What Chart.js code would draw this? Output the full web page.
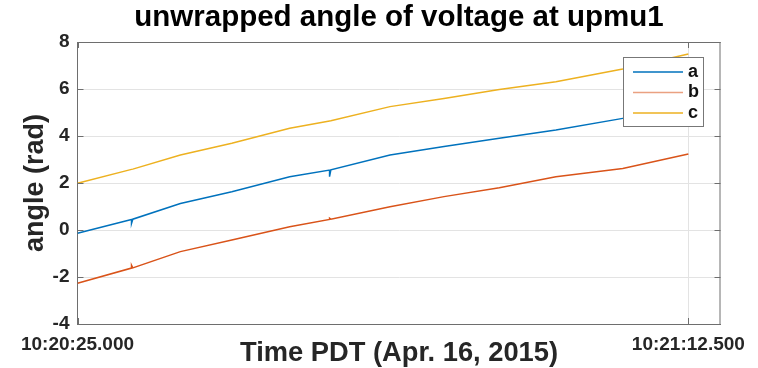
<!DOCTYPE html>
<html>
<head>
<meta charset="utf-8">
<script src="https://cdn.jsdelivr.net/npm/chart.js@4.4.1/dist/chart.umd.min.js"></script>
<style>
  html, body { margin: 0; padding: 0; background: #fff; }
</style>
</head>
<body>
<canvas id="angles" width="758" height="368"></canvas>
<script>
// seconds after 10:20:25.000 (Apr. 16, 2015)
const timeSec = [0, 4.2, 4.2, 4.3, 8, 12, 16.5, 19.6, 19.6, 19.7, 24.3, 28.5, 32.8, 37.2, 42.4, 47.5];
const seriesA = [-0.14, 0.45, 0.28, 0.46, 1.13, 1.63, 2.27, 2.55, 2.27, 2.56, 3.19, 3.55, 3.90, 4.26, 4.75, 5.15];
const seriesB = [-2.27, -1.62, -1.50, -1.61, -0.92, -0.43, 0.14, 0.45, 0.50, 0.46, 0.99, 1.42, 1.80, 2.27, 2.62, 3.23];
const seriesC = [1.99, 2.58, 2.58, 2.59, 3.19, 3.69, 4.33, 4.64, 4.64, 4.65, 5.25, 5.60, 5.98, 6.31, 6.85, 7.49];
const seriesNames = ["a", "b", "c"];
const xTickValues = [0, 47.5];
const xTickLabels = ["10:20:25.000", "10:21:12.500"];

const FONT = "'Liberation Sans', Arial, sans-serif";
const colors = ["#0072BD", "#D95319", "#EDB120"];

function toPoints(values) {
    return values.map((v, i) => ({ x: timeSec[i], y: v }));
}

// axes box: top/right edges and inward tick marks, like the original figure
const framePlugin = {
    id: "frame",
    afterDatasetsDraw(chart) {
        const { ctx, chartArea: a, scales } = chart;
        ctx.save();
        ctx.strokeStyle = "#6e6e6e";
        ctx.lineWidth = 1;
        ctx.beginPath();
        ctx.moveTo(a.left, a.top + 0.5);
        ctx.lineTo(a.right, a.top + 0.5);
        ctx.moveTo(a.right - 0.5, a.top);
        ctx.lineTo(a.right - 0.5, a.bottom);
        scales.y.ticks.forEach((t) => {
            const py = Math.round(scales.y.getPixelForValue(t.value)) + 0.5;
            ctx.moveTo(a.left, py);
            ctx.lineTo(a.left + 6, py);
            ctx.moveTo(a.right, py);
            ctx.lineTo(a.right - 6, py);
        });
        scales.x.ticks.forEach((t) => {
            const px = Math.round(scales.x.getPixelForValue(t.value)) + 0.5;
            ctx.moveTo(px, a.top);
            ctx.lineTo(px, a.top + 6);
            ctx.moveTo(px, a.bottom);
            ctx.lineTo(px, a.bottom - 6);
        });
        ctx.stroke();
        ctx.restore();
    },
};

// boxed legend in the upper right corner of the plot
const boxLegend = {
    id: "boxLegend",
    afterDraw(chart) {
        const { ctx } = chart;
        const x0 = 623, y0 = 57, w = 81, h = 70;
        ctx.save();
        ctx.fillStyle = "#fff";
        ctx.fillRect(x0, y0, w, h);
        ctx.strokeStyle = "#777";
        ctx.lineWidth = 1;
        ctx.strokeRect(x0 + 0.5, y0 + 0.5, w - 1, h - 1);
        ctx.font = "bold 18px " + FONT;
        ctx.textBaseline = "middle";
        chart.data.datasets.forEach((ds, i) => {
            const y = y0 + 15 + i * 20.5;
            ctx.strokeStyle = ds.borderColor;
            ctx.globalAlpha = i === 1 ? 0.55 : 1;
            ctx.lineWidth = 1.5;
            ctx.beginPath();
            ctx.moveTo(x0 + 10, y);
            ctx.lineTo(x0 + 60, y);
            ctx.stroke();
            ctx.globalAlpha = 1;
            ctx.fillStyle = "#111";
            ctx.fillText(ds.label, x0 + 65, y);
        });
        ctx.restore();
    },
};

new Chart(document.getElementById("angles"), {
    type: "line",
    data: {
        datasets: [seriesA, seriesB, seriesC].map((vals, i) => ({
            label: seriesNames[i],
            data: toPoints(vals),
            borderColor: colors[i],
            borderWidth: 1.5,
            pointRadius: 0,
            tension: 0,
        })),
    },
    options: {
        responsive: false,
        animation: false,
        layout: { padding: { left: 0, right: 37.5, top: 0, bottom: 0 } },
        plugins: {
            legend: { display: false },
            tooltip: { enabled: false },
            title: {
                display: true,
                fullSize: false,
                text: "unwrapped angle of voltage at upmu1",
                color: "#000",
                font: { family: FONT, size: 29.5, weight: "bold", lineHeight: 1.2 },
                padding: { top: 0, bottom: 6.6 },
            },
        },
        scales: {
            x: {
                type: "linear",
                min: 0,
                max: 50,
                afterBuildTicks: (scale) => {
                    scale.ticks = xTickValues.map((v) => ({ value: v }));
                },
                afterFit: (scale) => {
                    scale.height = 44;
                },
                ticks: {
                    autoSkip: false,
                    maxRotation: 0,
                    padding: 9,
                    color: "#262626",
                    font: { family: FONT, size: 19, weight: "bold" },
                    callback: (value, index) => xTickLabels[index],
                },
                grid: { color: "#e3e3e3", drawTicks: false },
                border: { color: "#6e6e6e", width: 1 },
                title: {
                    display: true,
                    text: "Time PDT (Apr. 16, 2015)",
                    color: "#262626",
                    font: { family: FONT, size: 27.3, weight: "bold", lineHeight: 1.05 },
                    padding: { top: 0, bottom: 0 },
                },
            },
            y: {
                min: -4,
                max: 8,
                afterFit: (scale) => {
                    scale.width = 77.5;
                },
                ticks: {
                    stepSize: 2,
                    padding: 8,
                    color: "#262626",
                    font: { family: FONT, size: 19, weight: "bold" },
                },
                grid: { color: "#e3e3e3", drawTicks: false },
                border: { color: "#6e6e6e", width: 1 },
                title: {
                    display: true,
                    text: "angle (rad)",
                    color: "#262626",
                    font: { family: FONT, size: 27, weight: "bold", lineHeight: 1.2 },
                    padding: { top: 19.5, bottom: 0 },
                },
            },
        },
    },
    plugins: [framePlugin, boxLegend],
});
</script>
</body>
</html>
